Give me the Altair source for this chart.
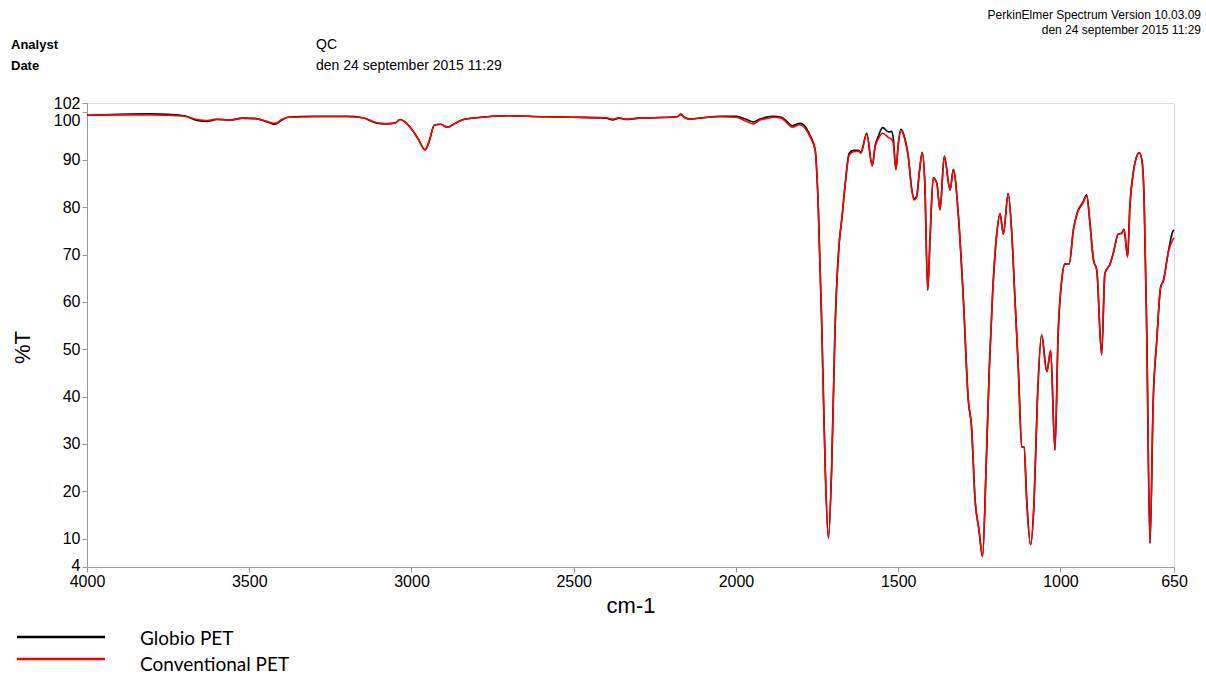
import altair as alt
import pandas as pd

# ---------------- data ----------------
wavenumber = [4000, 3900, 3800, 3750, 3700, 3660, 3630, 3600, 3560, 3520, 3480, 3440, 3420, 3400,
              3380, 3300, 3200, 3150, 3110, 3080, 3050, 3035, 3020, 3000, 2980, 2958, 2945, 2930,
              2910, 2890, 2860, 2840, 2800, 2700, 2600, 2500, 2400, 2380, 2360, 2340, 2300, 2250,
              2180, 2170, 2160, 2140, 2100, 2050, 2000, 1970, 1947, 1926, 1900, 1886, 1860, 1840,
              1827, 1803, 1785, 1772, 1756, 1747, 1735, 1725, 1715, 1705, 1695, 1681, 1674, 1664,
              1651, 1638, 1623, 1615, 1597, 1580, 1571, 1561, 1548, 1530, 1520, 1515, 1507, 1500,
              1492, 1479, 1469, 1459, 1451, 1443, 1435, 1426, 1418, 1409, 1402, 1392, 1381, 1371,
              1358, 1340, 1330, 1315, 1299, 1284, 1274, 1263, 1251, 1240, 1229, 1219, 1209, 1196,
              1186, 1176, 1161, 1150, 1140, 1130, 1119, 1112, 1104, 1092, 1081, 1071, 1058, 1042,
              1030, 1017, 1007, 996, 986, 973, 960, 948, 931, 919, 909, 898, 888, 873, 863, 847,
              837, 822, 811, 804, 793, 786, 775, 765, 757, 749, 742, 734, 724, 714, 703, 691, 683,
              667, 654, 650]

conventional_T = [99.4, 99.5, 99.5, 99.4, 99.2, 98.5, 98.3, 98.6, 98.4, 98.8, 98.7, 98.0, 97.7, 98.5,
                  99.0, 99.1, 99.1, 98.9, 97.9, 97.6, 97.8, 98.5, 98.0, 96.5, 94.5, 92.1, 94.0, 97.3,
                  97.5, 96.9, 97.9, 98.5, 98.9, 99.3, 99.1, 99.0, 98.9, 98.6, 98.9, 98.6, 98.8, 98.9,
                  99.1, 99.7, 99.0, 98.6, 98.9, 99.1, 99.0, 98.2, 97.6, 98.4, 98.8, 99.0, 98.8, 97.6,
                  96.9, 97.4, 96.5, 94.9, 92.1, 81.5, 53.4, 25.1, 10.1, 25.1, 53.4, 73.1, 77.3, 84.3,
                  91.0, 91.7, 91.8, 91.4, 95.4, 88.7, 92.8, 94.5, 95.6, 94.7, 94.3, 93.5, 87.9, 93.0,
                  96.2, 94.2, 90.7, 84.0, 81.5, 82.1, 87.2, 91.5, 85.0, 62.5, 73.1, 86.1, 85.0, 79.4,
                  90.7, 83.6, 87.9, 78.7, 60.4, 39.3, 33.6, 18.2, 11.8, 6.2, 25.2, 46.3, 61.8, 74.5,
                  78.6, 74.3, 82.9, 74.5, 60.4, 46.3, 29.4, 29.3, 18.2, 8.7, 18.2, 39.3, 53.0, 45.3,
                  49.7, 28.7, 53.4, 64.6, 68.0, 68.0, 75.2, 78.7, 80.8, 82.4, 76.6, 68.8, 66.7, 48.8,
                  66.0, 68.0, 70.3, 74.3, 74.5, 75.3, 69.5, 80.1, 87.5, 90.7, 91.5, 90.0, 81.5, 53.4,
                  9.0, 39.3, 51.9, 63.2, 64.3, 70.6, 73.1, 73.5]

globio_T = [99.4, 99.6, 99.7, 99.6, 99.3, 98.3, 98.1, 98.5, 98.4, 98.8, 98.7, 97.9, 97.5, 98.4,
            99.0, 99.2, 99.2, 98.9, 97.8, 97.6, 97.8, 98.5, 98.0, 96.5, 94.5, 92.1, 94.0, 97.3,
            97.5, 96.9, 97.9, 98.5, 98.9, 99.3, 99.1, 99.0, 98.8, 98.4, 98.8, 98.5, 98.8, 98.9,
            99.1, 99.6, 99.0, 98.6, 98.9, 99.2, 99.2, 98.6, 98.0, 98.6, 99.1, 99.2, 99.0, 97.9,
            97.2, 97.7, 96.9, 95.2, 92.2, 81.5, 53.4, 25.1, 10.1, 25.1, 53.4, 73.1, 77.3, 84.5,
            91.4, 92.0, 92.0, 91.6, 95.6, 88.8, 93.0, 95.0, 96.8, 95.9, 96.0, 94.5, 88.0, 93.2,
            96.5, 94.4, 90.8, 84.2, 81.8, 82.3, 87.3, 91.6, 85.1, 62.5, 73.1, 86.2, 85.1, 79.5,
            90.8, 83.7, 88.0, 78.7, 60.4, 39.3, 33.6, 18.2, 11.8, 6.2, 25.2, 46.3, 61.8, 74.5,
            78.6, 74.3, 82.9, 74.5, 60.4, 46.3, 29.4, 29.3, 18.2, 8.7, 18.2, 39.3, 53.0, 45.3,
            49.7, 28.7, 53.4, 64.6, 68.0, 68.0, 75.3, 78.9, 81.0, 82.6, 76.6, 68.8, 66.7, 48.8,
            66.0, 68.0, 70.3, 74.3, 74.5, 75.3, 69.5, 80.1, 87.5, 90.7, 91.5, 90.0, 81.5, 53.4,
            9.0, 39.3, 51.9, 63.2, 64.4, 70.8, 74.8, 75.2]

series_names = ["Globio PET", "Conventional PET"]
series_colors = ["#000000", "#ff0000"]

x_ticks = [4000, 3500, 3000, 2500, 2000, 1500, 1000, 650]
y_ticks = [4, 10, 20, 30, 40, 50, 60, 70, 80, 90, 100, 102]

header_left_keys = ["Analyst", "Date"]
header_left_values = ["QC", "den 24 september 2015 11:29"]
header_right = ["PerkinElmer Spectrum Version 10.03.09", "den 24 september 2015 11:29"]

df = pd.DataFrame({"wn": wavenumber, "g": globio_T, "c": conventional_T})

W, H = 1087, 464
AXIS_GRAY = "#9a9a9a"
FONT = "Liberation Sans"

xenc = alt.X("wn:Q",
             scale=alt.Scale(domain=[650, 4000], reverse=True, nice=False, zero=False),
             axis=alt.Axis(values=x_ticks, format="d", title="cm-1", grid=False,
                           labelFont=FONT, labelFontSize=16, labelColor="#000000",
                           labelFlush=False, labelOverlap=False, labelPadding=1,
                           domainColor=AXIS_GRAY, tickColor=AXIS_GRAY, tickSize=5,
                           titleFont=FONT, titleFontSize=22, titleFontWeight="normal",
                           titleColor="#000000", titlePadding=6))

yaxis = alt.Axis(values=y_ticks, format="d", title="%T", grid=False,
                 labelFont=FONT, labelFontSize=16, labelColor="#000000",
                 labelOverlap=False, labelPadding=2,
                 labelBaseline={"condition": {"test": "datum.value === 100", "value": "top"},
                                "value": "middle"},
                 labelOffset={"condition": {"test": "datum.value === 4", "value": -2},
                              "value": 0},
                 domainColor=AXIS_GRAY, tickColor=AXIS_GRAY, tickSize=5,
                 titleFont=FONT, titleFontSize=22, titleFontWeight="normal",
                 titleColor="#000000", titleAngle=-90, titleX=-65, titleY=244,
                 titleAlign="center", titleBaseline="middle")
yscale = alt.Scale(domain=[4, 102], nice=False, zero=False)

base = alt.Chart(df)
line_g = base.mark_line(color=series_colors[0], strokeWidth=1.6, interpolate="monotone").encode(
    x=xenc, y=alt.Y("g:Q", scale=yscale, axis=yaxis))
line_c = base.mark_line(color=series_colors[1], strokeWidth=1.6, interpolate="monotone").encode(
    x=xenc, y=alt.Y("c:Q", scale=yscale, axis=yaxis))


def txt(s, x, y, size, align="left", weight="normal", font=FONT):
    return alt.Chart(pd.DataFrame({"t": [s]})).mark_text(
        align=align, baseline="middle", fontSize=size, fontWeight=weight, font=font,
        color="#000000").encode(text="t:N", x=alt.value(x), y=alt.value(y))


def legend_line(color, y):
    return alt.Chart(pd.DataFrame({"k": [0]})).mark_rule(color=color, strokeWidth=2.5).encode(
        x=alt.value(-70), x2=alt.value(18), y=alt.value(y))


layers = [
    line_g, line_c,
    txt(header_left_keys[0], -76, -58, 13, weight="bold"),
    txt(header_left_keys[1], -76, -37, 13, weight="bold"),
    txt(header_left_values[0], 229, -58, 14),
    txt(header_left_values[1], 229, -37, 14),
    txt(header_right[0], 1114, -88, 12, align="right"),
    txt(header_right[1], 1114, -73, 12, align="right"),
    legend_line(series_colors[0], 534),
    legend_line(series_colors[1], 556),
    txt(series_names[0], 53, 536, 19, font="Lato"),
    txt(series_names[1], 53, 562, 19, font="Lato"),
]

chart = alt.layer(*layers).properties(
    width=W, height=H,
    autosize=alt.AutoSizeParams(type="none"),
    padding={"left": 87, "top": 103, "right": 32, "bottom": 110},
).configure_view(stroke=None).configure(background="white")

chart.save("out.html", embed_options={"renderer": "svg", "actions": False})
